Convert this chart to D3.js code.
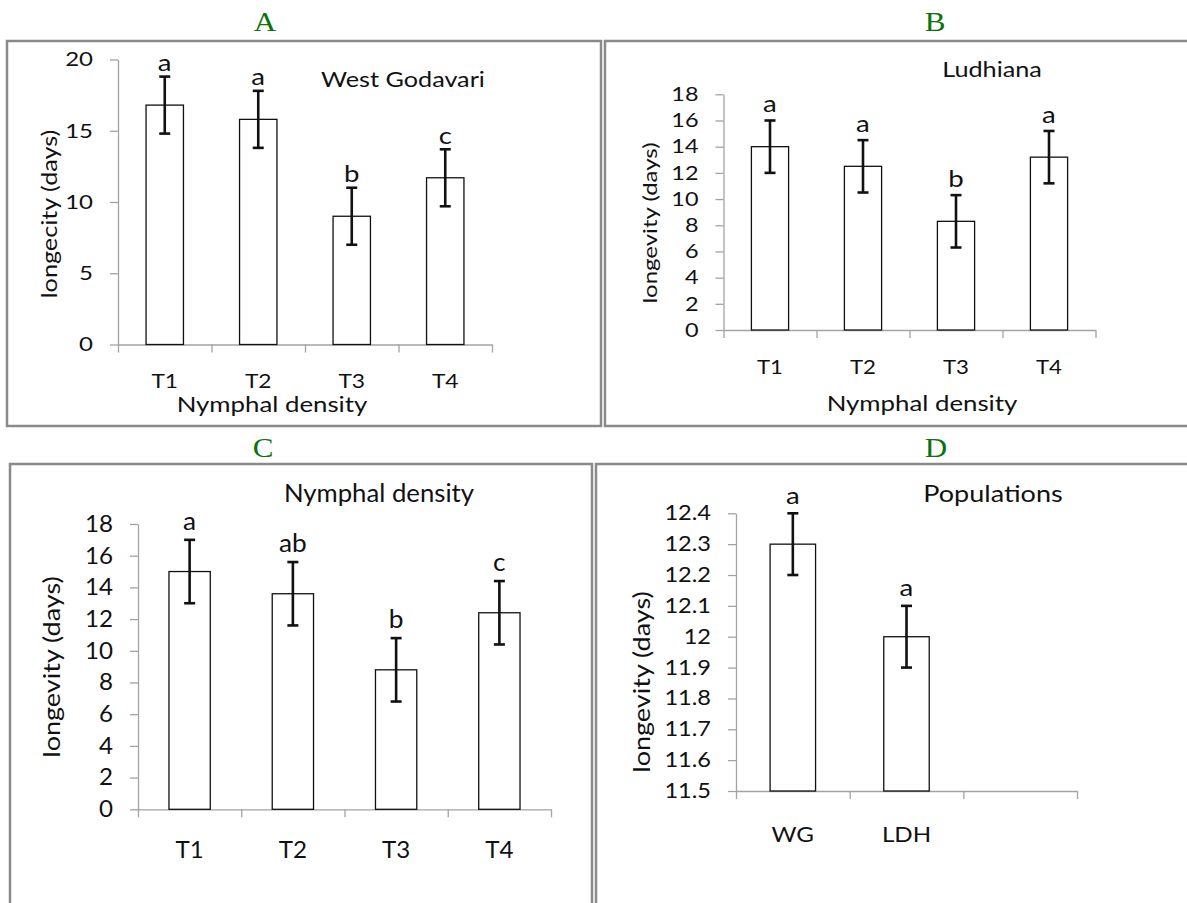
<!DOCTYPE html>
<html>
<head>
<meta charset="utf-8">
<script src="https://cdn.jsdelivr.net/npm/d3@7"></script>
<style>
  body { margin: 0; background: #fff; }
  svg text { font-family: Lato, "Open Sans", sans-serif; fill: #111; }
</style>
</head>
<body>
<svg id="chart" width="1187" height="903"></svg>
<script>
// --- data ---
var treatments = ["T1", "T2", "T3", "T4"];
var populations = ["WG", "LDH", ""];

var wgMeans = [16.8, 15.8, 9.0, 11.7];
var wgErrors = [2, 2, 2, 2];
var wgGroups = ["a", "a", "b", "c"];
var wgTicks = [0, 5, 10, 15, 20];

var ldhMeans = [14.0, 12.5, 8.3, 13.2];
var ldhErrors = [2, 2, 2, 2];
var ldhGroups = ["a", "a", "b", "a"];
var ldhTicks = [0, 2, 4, 6, 8, 10, 12, 14, 16, 18];

var densMeans = [15.0, 13.6, 8.8, 12.4];
var densErrors = [2, 2, 2, 2];
var densGroups = ["a", "ab", "b", "c"];
var densTicks = [0, 2, 4, 6, 8, 10, 12, 14, 16, 18];

var popMeans = [12.3, 12.0];
var popErrors = [0.1, 0.1];
var popGroups = ["a", "a"];
var popTicks = [11.5, 11.6, 11.7, 11.8, 11.9, 12.0, 12.1, 12.2, 12.3, 12.4];

var svg = d3.select("#chart");
svg.append("rect").attr("width", 1187).attr("height", 903).attr("fill", "#fff");

function drawPanel(o) {
    var g = svg.append("g");

    // panel frame
    g.append("rect")
        .attr("x", o.frame[0]).attr("y", o.frame[1])
        .attr("width", o.frame[2] - o.frame[0]).attr("height", o.frame[3] - o.frame[1])
        .attr("fill", "none").attr("stroke", "#8a8a8a").attr("stroke-width", 2.5);

    g.append("text")
        .attr("x", o.letter[0]).attr("y", o.letter[1])
        .attr("text-anchor", "middle")
        .attr("data-k", 1.15)
        .style("font-family", "'Liberation Serif', serif")
        .style("font-size", "27px")
        .style("fill", "#0b730b")
        .text(o.name);

    var p = o.plot;
    var y = d3.scaleLinear().domain(o.domain).range([p.bottom, p.top]);
    var x = d3.scaleBand().domain(o.cats).range([p.left, p.right])
        .paddingInner(0.6).paddingOuter(0.3);
    var xEdge = d3.scaleLinear().domain([0, o.cats.length]).range([p.left, p.right]);

    var yAxis = g.append("g")
        .attr("transform", "translate(" + p.left + ",0)")
        .call(d3.axisLeft(y).tickValues(o.ticks).tickSize(8).tickSizeOuter(0).tickPadding(17)
            .tickFormat(function(d) { return String(+d.toFixed(1)); }));
    yAxis.attr("font-size", null).attr("font-family", null);
    yAxis.selectAll("path, line").attr("stroke", "#a3a3a3").attr("stroke-width", 1.3);
    yAxis.selectAll("text")
        .style("font-size", o.tickSize + "px")
        .attr("data-k", o.k);

    var xAxis = g.append("g")
        .attr("transform", "translate(0," + p.bottom + ")")
        .call(d3.axisBottom(xEdge).tickValues(d3.range(o.cats.length + 1)).tickFormat("").tickSize(8).tickSizeOuter(0));
    xAxis.selectAll("path, line").attr("stroke", "#a3a3a3").attr("stroke-width", 1.3);

    var rows = o.means.map(function(m, i) {
        return { cat: o.cats[i], mean: m, err: o.errors[i], group: o.groups[i] };
    });

    g.selectAll(".bar").data(rows).enter().append("rect")
        .attr("class", "bar")
        .attr("x", function(d) { return x(d.cat); })
        .attr("width", x.bandwidth())
        .attr("y", function(d) { return y(d.mean); })
        .attr("height", function(d) { return p.bottom - y(d.mean); })
        .attr("fill", "#fff")
        .attr("stroke", "#111")
        .attr("stroke-width", 1.3);

    var cap = 5.5;
    var eb = g.selectAll(".err").data(rows).enter().append("g")
        .attr("class", "err")
        .attr("stroke", "#111").attr("stroke-width", 2.6);
    eb.append("line")
        .attr("x1", function(d) { return x(d.cat) + x.bandwidth() / 2; })
        .attr("x2", function(d) { return x(d.cat) + x.bandwidth() / 2; })
        .attr("y1", function(d) { return y(d.mean + d.err); })
        .attr("y2", function(d) { return y(d.mean - d.err); });
    [1, -1].forEach(function(s) {
        eb.append("line")
            .attr("x1", function(d) { return x(d.cat) + x.bandwidth() / 2 - cap; })
            .attr("x2", function(d) { return x(d.cat) + x.bandwidth() / 2 + cap; })
            .attr("y1", function(d) { return y(d.mean + s * d.err); })
            .attr("y2", function(d) { return y(d.mean + s * d.err); });
    });

    g.selectAll(".grp").data(rows).enter().append("text")
        .attr("class", "grp")
        .attr("x", function(d) { return x(d.cat) + x.bandwidth() / 2; })
        .attr("y", function(d) { return y(d.mean + d.err) - o.groupGap; })
        .attr("text-anchor", "middle")
        .attr("data-k", o.k)
        .style("font-size", o.groupSize + "px")
        .text(function(d) { return d.group; });

    g.selectAll(".cat").data(o.cats).enter().append("text")
        .attr("class", "cat")
        .attr("x", function(d) { return x(d) + x.bandwidth() / 2; })
        .attr("y", o.catY)
        .attr("text-anchor", "middle")
        .attr("data-k", o.k)
        .style("font-size", o.catSize + "px")
        .text(function(d) { return d; });

    g.append("text")
        .attr("x", o.title[0]).attr("y", o.title[1])
        .attr("text-anchor", "middle")
        .attr("data-k", o.k)
        .style("font-size", o.title[2] + "px")
        .text(o.titleText);

    if (o.xLabel) {
        g.append("text")
            .attr("x", o.xLabel[0]).attr("y", o.xLabel[1])
            .attr("text-anchor", "middle")
            .attr("data-k", o.k)
            .style("font-size", o.xLabel[2] + "px")
            .text(o.xLabelText);
    }

    g.append("text")
        .attr("transform", "translate(" + o.yLabel[0] + "," + o.yLabel[1] + ") rotate(-90)")
        .attr("text-anchor", "middle")
        .attr("dy", "0.35em")
        .attr("data-k", 1.2)
        .style("font-size", o.yLabel[2] + "px")
        .text(o.yLabelText);
}

drawPanel({
    name: "A", frame: [7, 41, 601, 426], letter: [265, 31],
    plot: { left: 118, right: 492, top: 59.5, bottom: 344.5 },
    domain: [0, 20], ticks: wgTicks, cats: treatments,
    means: wgMeans, errors: wgErrors, groups: wgGroups,
    k: 1.2, tickSize: 20, catSize: 19, catY: 388, groupGap: 5.5, groupSize: 23,
    titleText: "West Godavari", title: [403, 87, 21],
    xLabelText: "Nymphal density", xLabel: [272, 412, 21.5],
    yLabelText: "longecity (days)", yLabel: [50, 214, 21]
});

drawPanel({
    name: "B", frame: [605, 41, 1192, 426], letter: [935, 31],
    plot: { left: 723.5, right: 1095.5, top: 94.3, bottom: 330 },
    domain: [0, 18], ticks: ldhTicks, cats: treatments,
    means: ldhMeans, errors: ldhErrors, groups: ldhGroups,
    k: 1.2, tickSize: 19.5, catSize: 18.5, catY: 374, groupGap: 8, groupSize: 23,
    titleText: "Ludhiana", title: [992, 77, 21],
    xLabelText: "Nymphal density", xLabel: [922, 411, 21.5],
    yLabelText: "longevity (days)", yLabel: [650, 223, 20]
});

drawPanel({
    name: "C", frame: [10, 464, 592, 910], letter: [263, 457],
    plot: { left: 138, right: 551, top: 524, bottom: 809.3 },
    domain: [0, 18], ticks: densTicks, cats: treatments,
    means: densMeans, errors: densErrors, groups: densGroups,
    k: 1.05, tickSize: 23, catSize: 23, catY: 858, groupGap: 10, groupSize: 25,
    titleText: "Nymphal density", title: [379, 502, 24.5],
    xLabel: null,
    yLabelText: "longevity (days)", yLabel: [52, 667, 22.5]
});

drawPanel({
    name: "D", frame: [596, 464, 1192, 910], letter: [936, 457],
    plot: { left: 736, right: 1077, top: 513.3, bottom: 791 },
    domain: [11.5, 12.4], ticks: popTicks, cats: populations,
    means: popMeans, errors: popErrors, groups: popGroups,
    k: 1.15, tickSize: 20.5, catSize: 21, catY: 842, groupGap: 9.5, groupSize: 24,
    titleText: "Populations", title: [993, 502, 23.5],
    xLabel: null,
    yLabelText: "longevity (days)", yLabel: [642, 682, 22.5]
});

// the source figure is stretched; widen glyphs to match
svg.selectAll("text").each(function() {
    var k = +this.getAttribute("data-k") || 1;
    var w = this.getComputedTextLength();
    if (w > 0 && k !== 1) {
        d3.select(this).attr("textLength", w * k).attr("lengthAdjust", "spacingAndGlyphs");
    }
});
</script>
</body>
</html>
